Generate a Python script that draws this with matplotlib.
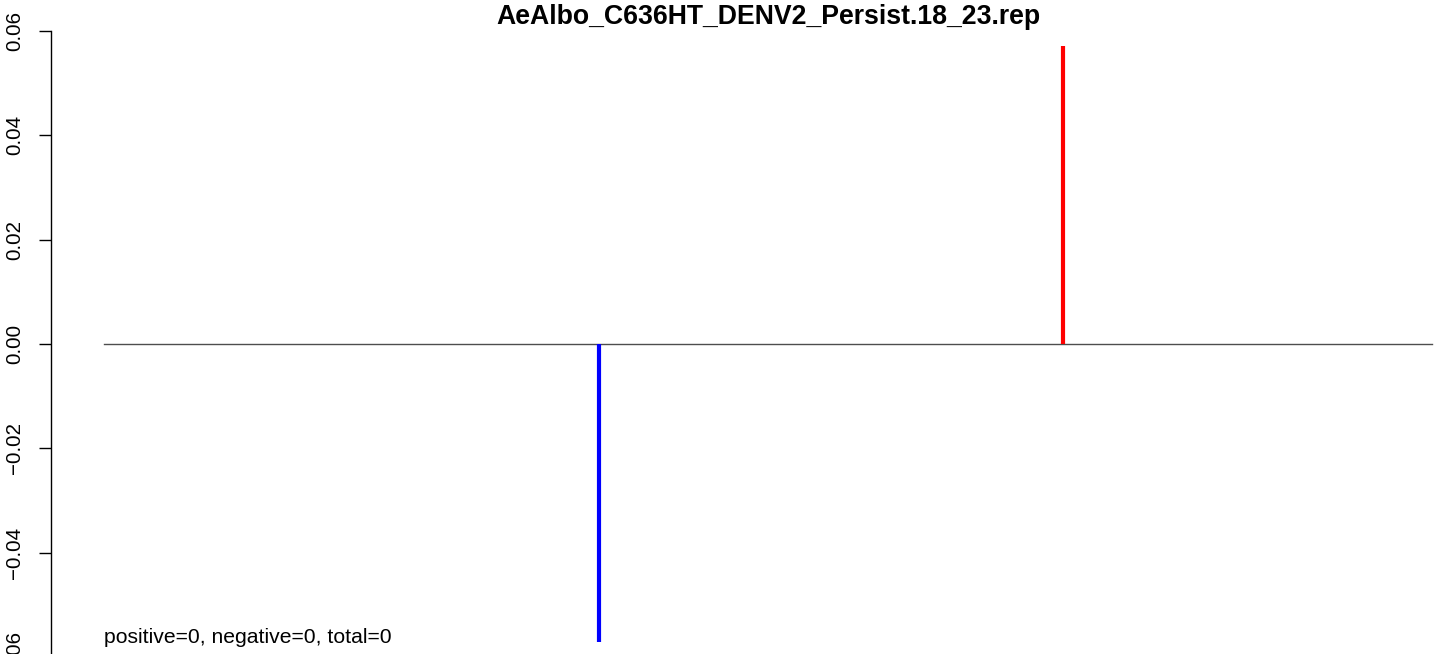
import matplotlib
matplotlib.use("Agg")
import matplotlib.pyplot as plt

plt.rcParams['font.family'] = ['Liberation Sans', 'DejaVu Sans']

title = "AeAlbo_C636HT_DENV2_Persist.18_23.rep"
seq_start = 1
seq_end = 10723
# position / score of the two marks
pos_x = [7743]
pos_y = [0.0571]
neg_x = [3997]
neg_y = [-0.0571]
yticks = [-0.06, -0.04, -0.02, 0.00, 0.02, 0.04, 0.06]
note = "positive=0, negative=0, total=0"

W, H = 1444, 654
fig = plt.figure(figsize=(W / 100, H / 100), dpi=100)

# plot region: R-like 4% padding on x, axes runs a bit past the figure edges
pad = 0.04 * (seq_end - seq_start)
x0, x1 = seq_start - pad, seq_end + pad
px_per_x = 1328 / (seq_end - seq_start)
ax_left, ax_w = 51, (x1 - x0) * px_per_x
px_per_y = 5215.0
ax_top, ax_bot = 0, 680
ax = fig.add_axes([ax_left / W, 1 - ax_bot / H, ax_w / W, (ax_bot - ax_top) / H])
ax.set_xlim(x0, x1)
ax.set_ylim(-(ax_bot - 344) / px_per_y, 344 / px_per_y)

ax.plot([seq_start, seq_end], [0, 0], color='#4d4d4d', lw=1)
ax.vlines(pos_x, 0, pos_y, color='#ff0000', lw=3)
ax.vlines(neg_x, neg_y, 0, color='#0000ff', lw=3)

ax.text(seq_start, -0.0562, note, ha='left', va='center', fontsize=15.2)
ax.set_title(title, fontsize=19.2, fontweight='bold', pad=0, y=0.965)

for s in ['top', 'right', 'bottom']:
    ax.spines[s].set_visible(False)
ax.spines['left'].set_bounds(-0.06, 0.06)
ax.spines['left'].set_linewidth(1)
ax.set_xticks([])
ax.set_yticks(yticks)
ax.set_yticklabels([f"{v:.2f}".replace("-", "\u2212") for v in yticks],
                   rotation=90, va='center', fontsize=14.8)
ax.tick_params(axis='y', length=8.6, width=1, pad=11)

fig.savefig("out.png", dpi=100)
